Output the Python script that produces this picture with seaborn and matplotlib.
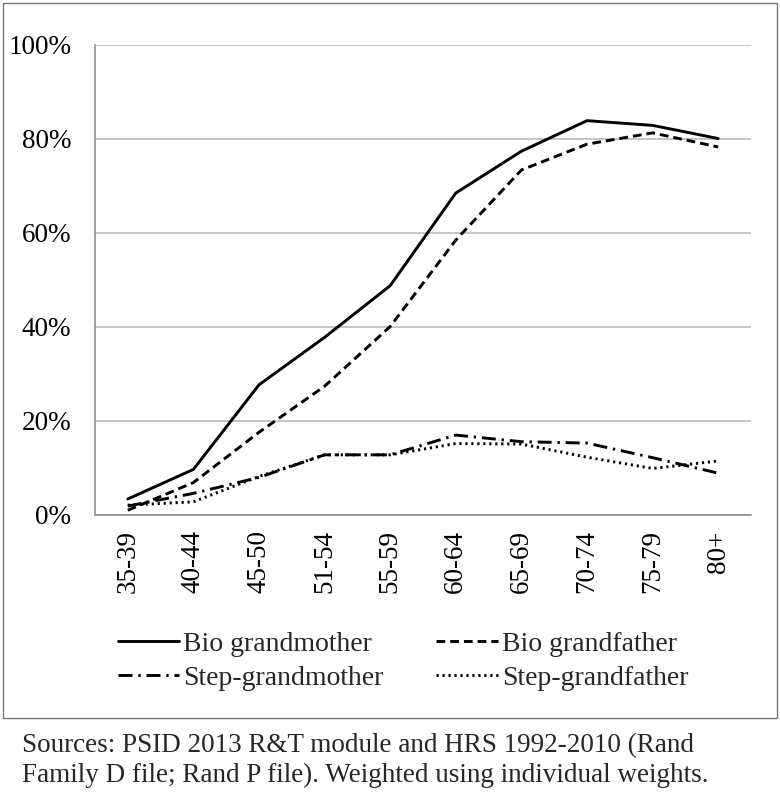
import numpy as np
import pandas as pd
import matplotlib
matplotlib.use("Agg")
import matplotlib.pyplot as plt
from matplotlib.patches import Rectangle
from matplotlib.ticker import FuncFormatter
import seaborn as sns

age_groups = ["35-39", "40-44", "45-50", "51-54", "55-59", "60-64", "65-69", "70-74", "75-79", "80+"]
bio_grandmother = [3.4, 9.7, 27.7, 37.8, 48.8, 68.5, 77.4, 83.9, 82.9, 80.1]
bio_grandfather = [1.0, 6.9, 17.6, 27.4, 40.1, 58.5, 73.4, 78.9, 81.3, 78.3]
step_grandmother = [1.9, 4.6, 8.0, 12.8, 12.8, 17.0, 15.6, 15.3, 12.2, 8.9]
step_grandfather = [2.1, 2.8, 8.2, 12.8, 12.8, 15.2, 15.1, 12.3, 9.9, 11.5]
series_names = ["Bio grandmother", "Bio grandfather", "Step-grandmother", "Step-grandfather"]
caption = ("Sources: PSID 2013 R&T module and HRS 1992-2010 (Rand\n"
           "Family D file; Rand P file). Weighted using individual weights.")

rows = []
for name, vals in zip(series_names, [bio_grandmother, bio_grandfather, step_grandmother, step_grandfather]):
    for i, (g, v) in enumerate(zip(age_groups, vals)):
        rows.append({"pos": i, "age": g, "share": v / 100.0, "series": name})
df = pd.DataFrame(rows)

sns.set_theme(style="white")
plt.rcParams["font.family"] = ["Liberation Serif", "DejaVu Serif"]

fig = plt.figure(figsize=(7.8, 7.95), dpi=100)
ax = fig.add_axes([95 / 780, (795 - 515) / 795, (751 - 95) / 780, (515 - 45) / 795])

dashes = {
    "Bio grandmother": "",
    "Bio grandfather": (3.0, 1.7),
    "Step-grandmother": (4.8, 2.0, 0.8, 2.0),
    "Step-grandfather": (0.75, 1.3),
}
sns.lineplot(data=df, x="pos", y="share", style="series", style_order=series_names,
             dashes=dashes, color="black", linewidth=2.1, ax=ax, legend=True)

ax.set_xlim(-0.5, 9.5)
ax.set_ylim(0, 1.0)
ax.set_yticks(np.arange(0, 1.01, 0.2))
ax.yaxis.set_major_formatter(FuncFormatter(lambda v, p: f"{v*100:.0f}%"))
ax.set_xticks(range(len(age_groups)))
ax.set_xticklabels(age_groups, rotation=90)
ax.set_xlabel("")
ax.set_ylabel("")
ax.tick_params(axis="both", length=0, labelsize=19.5, colors="black")
ax.tick_params(axis="y", pad=17)
ax.tick_params(axis="x", pad=11)
ax.grid(axis="y", color="#b5b5b5", linewidth=1.1)
ax.set_axisbelow(True)
for s in ["top", "right"]:
    ax.spines[s].set_visible(False)
for s in ["left", "bottom"]:
    ax.spines[s].set_color("#888888")
    ax.spines[s].set_linewidth(1.1)

handles, labels = ax.get_legend_handles_labels()
hmap = dict(zip(labels, handles))
order = ["Bio grandmother", "Step-grandmother", "Bio grandfather", "Step-grandfather"]
ax.legend_.remove()
fig.legend([hmap[k] for k in order], order, ncol=2, loc="center left",
           bbox_to_anchor=(118 / 780, (795 - 661) / 795), frameon=False,
           fontsize=20, handlelength=2.2, handletextpad=0.15, columnspacing=1.9,
           labelspacing=0.3, borderpad=0, borderaxespad=0)

fig.patches.append(Rectangle((3 / 780, (795 - 718) / 795), 774 / 780, 715 / 795,
                             transform=fig.transFigure, fill=False,
                             edgecolor="#777777", linewidth=1.0))

fig.text(22 / 780, (795 - 761) / 795, caption, fontsize=19.5, ha="left", va="center",
         linespacing=1.25)

fig.savefig("out.png", dpi=100)
